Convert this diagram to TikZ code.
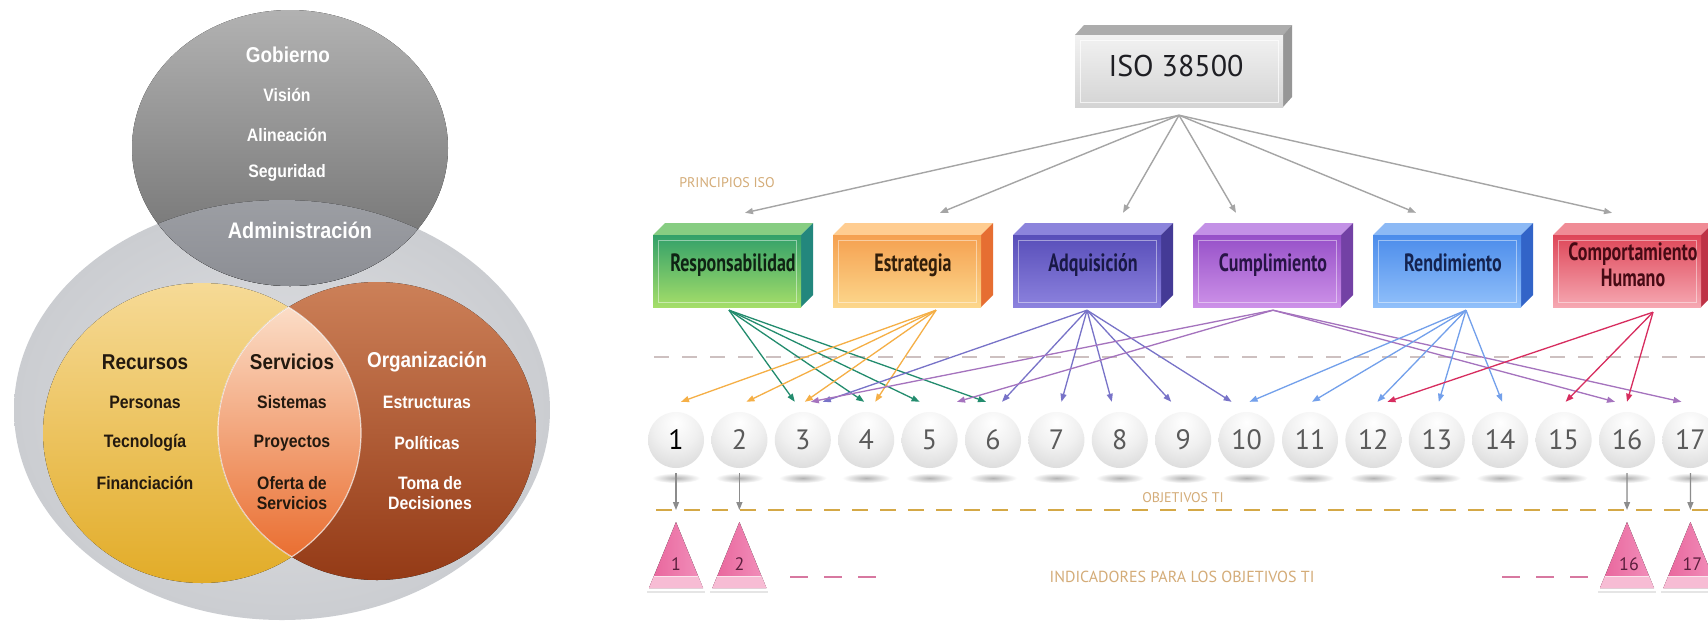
\documentclass[tikz,border=0pt]{standalone}
\usepackage{fontspec}
\usetikzlibrary{arrows.meta}
\setmainfont{Liberation Sans}
\newfontfamily\vennfont[FakeStretch=0.88]{Liberation Sans}
\newfontfamily\gillfont{PT Sans}
\newfontfamily\gillcond[FakeStretch=0.72]{PT Sans}

% Venn colours
\definecolor{bigIn}{RGB}{224,225,228}
\definecolor{bigOut}{RGB}{203,205,209}
\definecolor{govTop}{RGB}{178,178,178}
\definecolor{govBot}{RGB}{108,108,108}
\definecolor{admTop}{RGB}{192,194,198}
\definecolor{admBot}{RGB}{140,142,148}
\definecolor{yelTop}{RGB}{246,218,150}
\definecolor{yelBot}{RGB}{226,172,40}
\definecolor{orTop}{RGB}{204,128,88}
\definecolor{orBot}{RGB}{148,58,22}
\definecolor{lnTop}{RGB}{253,232,214}
\definecolor{lnBot}{RGB}{232,100,35}
\definecolor{vdark}{RGB}{35,25,15}
% ISO box
\definecolor{isoF1}{RGB}{242,242,242}
\definecolor{isoF2}{RGB}{212,212,212}
\definecolor{isoTopF}{RGB}{172,172,172}
\definecolor{isoSide}{RGB}{150,150,150}
\definecolor{isoText}{RGB}{30,30,35}
% principle boxes
\definecolor{gF1}{RGB}{50,160,105}\definecolor{gF2}{RGB}{165,222,105}\definecolor{gT}{RGB}{135,205,130}\definecolor{gS}{RGB}{35,135,125}\definecolor{gTx}{RGB}{15,35,20}
\definecolor{oF1}{RGB}{245,160,80}\definecolor{oF2}{RGB}{252,215,140}\definecolor{oT}{RGB}{255,205,145}\definecolor{oS}{RGB}{230,110,50}\definecolor{oTx}{RGB}{50,30,10}
\definecolor{iF1}{RGB}{88,78,185}\definecolor{iF2}{RGB}{140,130,222}\definecolor{iT}{RGB}{140,132,220}\definecolor{iS}{RGB}{68,58,150}\definecolor{iTx}{RGB}{25,25,70}
\definecolor{uF1}{RGB}{150,80,200}\definecolor{uF2}{RGB}{205,145,232}\definecolor{uT}{RGB}{195,145,230}\definecolor{uS}{RGB}{115,65,165}\definecolor{uTx}{RGB}{40,20,70}
\definecolor{bF1}{RGB}{75,140,235}\definecolor{bF2}{RGB}{145,192,250}\definecolor{bT}{RGB}{140,185,245}\definecolor{bS}{RGB}{50,100,200}\definecolor{bTx}{RGB}{20,35,80}
\definecolor{rF1}{RGB}{222,70,88}\definecolor{rF2}{RGB}{246,168,178}\definecolor{rT}{RGB}{240,140,150}\definecolor{rS}{RGB}{190,50,70}\definecolor{rTx}{RGB}{70,10,20}
% arrows
\definecolor{isoArr}{RGB}{165,165,165}
\definecolor{gArr}{RGB}{35,140,110}
\definecolor{oArr}{RGB}{245,175,70}
\definecolor{iArr}{RGB}{120,115,200}
\definecolor{uArr}{RGB}{165,115,190}
\definecolor{bArr}{RGB}{115,160,235}
\definecolor{rArr}{RGB}{215,45,95}
\definecolor{grayArr}{RGB}{140,140,140}
% dashes and labels
\definecolor{dashUp}{RGB}{205,192,192}
\definecolor{dashLo}{RGB}{212,168,70}
\definecolor{pinkDash}{RGB}{215,120,160}
\definecolor{tanC}{RGB}{212,172,120}
% spheres and pyramids
\definecolor{sphA}{RGB}{255,255,255}
\definecolor{sphB}{RGB}{240,240,240}
\definecolor{sphC}{RGB}{208,208,208}
\definecolor{sphD}{RGB}{172,172,172}
\definecolor{sphE}{RGB}{195,195,195}
\definecolor{numGray}{RGB}{90,90,90}
\definecolor{triL}{RGB}{232,100,155}
\definecolor{triR}{RGB}{242,145,188}
\definecolor{triBand}{RGB}{247,188,212}
\definecolor{triNum}{RGB}{90,30,60}

\pgfdeclareradialshading{sph}{\pgfpoint{0bp}{16bp}}{color(0bp)=(sphA); color(20bp)=(sphB); color(46bp)=(sphC); color(58bp)=(sphD); color(66bp)=(sphE); color(100bp)=(sphE)}

% #1 name, #2 left x, #3/#4 front gradient, #5 top face, #6 side face, #7 text colour, #8 text
\newcommand\princbox[8]{%
  \fill[#5] (#2,235) -- ++(12,-12) -- ++(148,0) -- ++(-12,12) -- cycle;
  \fill[#6] (#2+148,235) -- ++(12,-12) -- ++(0,72) -- ++(-12,12) -- cycle;
  \fill[top color=#3, bottom color=#4] (#2,235) rectangle ++(148,72);
  \draw[white, opacity=.45, line width=1pt] (#2+5,240) rectangle ++(138,62);
  \node[boxnode] (#1) at (#2+74,271) {};
  \node[boxtxt, text=#7, anchor=base] (#1t) at (#2+80,271) {#8};
}

\begin{document}
\begin{tikzpicture}[x=1pt,y=-1pt,
  vtxt/.style={font=\vennfont\bfseries\fontsize{18}{20}\selectfont, inner sep=0, align=center},
  vhead/.style={font=\vennfont\bfseries\fontsize{21.5}{24}\selectfont, inner sep=0},
  boxnode/.style={inner sep=0, minimum width=148pt, minimum height=72pt},
  boxtxt/.style={font=\gillcond\bfseries\fontsize{25}{26}\selectfont, inner sep=0, align=center},
  sphere/.style={circle, minimum size=56pt, inner sep=0, shade, shading=sph, font=\gillfont\fontsize{28}{30}\selectfont, text=numGray},
  trinum/.style={font=\gillfont\fontsize{18}{20}\selectfont, text=triNum, inner sep=0},
  tanlbl/.style={font=\gillfont\fontsize{14}{16}\selectfont, text=tanC, inner sep=0},
  arr/.style={line width=1.3pt, -{Triangle[length=8pt,width=6pt]}},
  isoarr/.style={arr, draw=isoArr, fill=isoArr, line width=1.4pt},
  garr/.style={arr, draw=gArr, fill=gArr},
  oarr/.style={arr, draw=oArr, fill=oArr},
  iarr/.style={arr, draw=iArr, fill=iArr},
  uarr/.style={arr, draw=uArr, fill=uArr},
  barr/.style={arr, draw=bArr, fill=bArr},
  rarr/.style={arr, draw=rArr, fill=rArr},
  grayarr/.style={arr, draw=grayArr, fill=grayArr}
]
\fill[white] (0,0) rectangle (1708,625);
\useasboundingbox (0,0) rectangle (1708,625);

% ===================== Venn diagram =====================
\shade[inner color=bigIn, outer color=bigOut] (282,410) ellipse (268 and 210);
\fill[top color=govTop, bottom color=govBot] (290,148) ellipse (158 and 138);
\begin{scope}
  \clip (282,410) ellipse (268 and 210);
  \fill[top color=admTop, bottom color=admBot] (290,148) ellipse (158 and 138);
\end{scope}
\fill[top color=yelTop, bottom color=yelBot] (202,433) ellipse (159 and 150);
\fill[top color=orTop, bottom color=orBot] (377,431) ellipse (159 and 149);
\begin{scope}
  \clip (202,433) ellipse (159 and 150);
  \fill[top color=lnTop, bottom color=lnBot] (377,431) ellipse (159 and 149);
  \draw[white, opacity=.7, line width=1.2pt] (377,431) ellipse (159 and 149);
\end{scope}
\begin{scope}
  \clip (377,431) ellipse (159 and 149);
  \draw[white, opacity=.7, line width=1.2pt] (202,433) ellipse (159 and 150);
\end{scope}

\node[vhead, text=white] (gob) at (288,55) {Gobierno};
\node[vtxt, text=white] (vis) at (287,95) {Visión};
\node[vtxt, text=white] (ali) at (287,135) {Alineación};
\node[vtxt, text=white] (seg) at (287,173) {Seguridad};
\node[vhead, text=white, font=\vennfont\bfseries\fontsize{22.5}{25}\selectfont] (adm) at (300,230) {Administración};
\node[vhead, text=vdark] (rec) at (145,362) {Recursos};
\node[vtxt, text=vdark] (per) at (145,402) {Personas};
\node[vtxt, text=vdark] (tec) at (145,443) {Tecnología};
\node[vtxt, text=vdark] (fin) at (145,483) {Financiación};
\node[vhead, text=vdark] (ser) at (292,362) {Servicios};
\node[vtxt, text=vdark] (sis) at (292,402) {Sistemas};
\node[vtxt, text=vdark] (pro) at (292,443) {Proyectos};
\node[vtxt, text=vdark] (ofe) at (292,493) {Oferta de\\Servicios};
\node[vhead, text=white] (org) at (427,362) {Organización};
\node[vtxt, text=white] (est) at (427,402) {Estructuras};
\node[vtxt, text=white] (pol) at (427,443) {Políticas};
\node[vtxt, text=white] (tom) at (430,493) {Toma de\\Decisiones};

% ===================== ISO hierarchy =====================
% ISO box
\fill[isoTopF] (1075,35) -- ++(9,-10) -- ++(208,0) -- ++(-9,10) -- cycle;
\fill[isoSide] (1283,35) -- ++(9,-10) -- ++(0,72) -- ++(-9,10) -- cycle;
\fill[top color=isoF1, bottom color=isoF2] (1075,35) rectangle (1283,107);
\draw[white, opacity=.7, line width=1pt] (1080,40) rectangle (1278,102);
\node[inner sep=0, minimum width=208pt, minimum height=72pt] (iso) at (1179,71) {};
\node[font=\gillfont\fontsize{30}{32}\selectfont, text=isoText, inner sep=0] (isot) at (1176,66) {ISO 38500};
\coordinate (isoout) at ([yshift=-8pt]iso.south);

\node[tanlbl] (princ) at (727,183) {PRINCIPIOS ISO};

% principle boxes
\princbox{p1}{653}{gF1}{gF2}{gT}{gS}{gTx}{Responsabilidad}
\princbox{p2}{833}{oF1}{oF2}{oT}{oS}{oTx}{Estrategia}
\princbox{p3}{1013}{iF1}{iF2}{iT}{iS}{iTx}{Adquisición}
\princbox{p4}{1193}{uF1}{uF2}{uT}{uS}{uTx}{Cumplimiento}
\princbox{p5}{1373}{bF1}{bF2}{bT}{bS}{bTx}{Rendimiento}
\princbox{p6}{1553}{rF1}{rF2}{rT}{rS}{rTx}{}
\node[boxtxt, text=rTx] (p6h) at (1633,265) {Comportamiento\\Humano};

% ISO arrows
\foreach \p/\dx in {p1/18, p2/33, p3/36, p4/-31, p5/-31, p6/-15}
  \draw[isoarr] (isoout) -- ([xshift=\dx pt, yshift=22pt]\p.north);

% dashed guide lines
\draw[dashUp, line width=2pt, dash pattern=on 15pt off 13pt] (654,357) -- (1708,357);
\draw[dashLo, line width=2pt, dash pattern=on 16pt off 12pt] (656,510) -- (1708,510);
\draw[pinkDash, line width=2pt, dash pattern=on 18pt off 16pt] (790,577) -- (876,577);
\draw[pinkDash, line width=2pt, dash pattern=on 18pt off 16pt] (1502,577) -- (1589,577);

\node[tanlbl] (objt) at (1183,498) {OBJETIVOS TI};
\node[tanlbl, font=\gillfont\fontsize{16}{18}\selectfont] (indt) at (1182,577) {INDICADORES PARA LOS OBJETIVOS TI};

% spheres
\foreach \i in {1,...,17} {
  \pgfmathsetmacro\sx{676+63.4*(\i-1)}
  \shade[inner color=black!30, outer color=white] (\sx,478) ellipse (24 and 5);
}
\node[sphere, text=black] (s1) at (676,440) {1};
\foreach \i in {2,...,17} {
  \pgfmathsetmacro\sx{676+63.4*(\i-1)}
  \node[sphere] (s\i) at (\sx,440) {\i};
}

% source points under the boxes
\coordinate (g0) at ([xshift=2pt, yshift=-3pt]p1.south);
\coordinate (o0) at ([xshift=29pt, yshift=-3pt]p2.south);
\coordinate (i0) at ([xshift=0pt, yshift=-3pt]p3.south);
\coordinate (u0) at ([xshift=6pt, yshift=-3pt]p4.south);
\coordinate (b0) at ([xshift=19pt, yshift=-3pt]p5.south);
\coordinate (r0) at ([xshift=26pt, yshift=-5pt]p6.south);

\foreach \t/\dx in {3/-8, 4/-2, 5/-10, 6/-7}
  \draw[garr] (g0) -- ([xshift=\dx pt, yshift=10pt]s\t.north);
\foreach \t/\dx in {1/5, 2/7, 3/2, 4/9}
  \draw[oarr] (o0) -- ([xshift=\dx pt, yshift=10pt]s\t.north);
\foreach \t/\dx in {3/20, 6/9, 7/5, 8/-8, 9/-12, 10/-15}
  \draw[iarr] (i0) -- ([xshift=\dx pt, yshift=10pt]s\t.north);
\foreach \t/\dx in {3/8, 6/-36, 16/-12, 17/-9}
  \draw[uarr] (u0) -- ([xshift=\dx pt, yshift=10pt]s\t.north);
\foreach \t/\dx in {10/3, 11/2, 12/4, 13/2, 14/2}
  \draw[barr] (b0) -- ([xshift=\dx pt, yshift=10pt]s\t.north);
\foreach \t/\dx in {12/14, 15/2, 16/0}
  \draw[rarr] (r0) -- ([xshift=\dx pt, yshift=10pt]s\t.north);

% indicator pyramids
\foreach \i/\x/\nx in {1/676/676, 2/739.4/739.4, 16/1627/1629, 17/1690.4/1692.4} {
  \coordinate (a\i) at (\x,522);
  \draw[black!10, line width=2pt] (\x-29,592) -- (\x+29,592);
  \fill[left color=triL, right color=triR] (\x-27,588) -- (a\i) -- (\x+27,588) -- cycle;
  \fill[triBand] (\x-22,576) -- (\x+22,576) -- (\x+27,588) -- (\x-27,588) -- cycle;
  \draw[white, opacity=.6, line width=.8pt] (\x-22,576) -- (\x+22,576);
  \node[trinum] (t\i) at (\nx,564) {\i};
  \draw[grayarr] ([yshift=-5pt]s\i.south) -- ([yshift=12pt]a\i);
}
\end{tikzpicture}
\end{document}
